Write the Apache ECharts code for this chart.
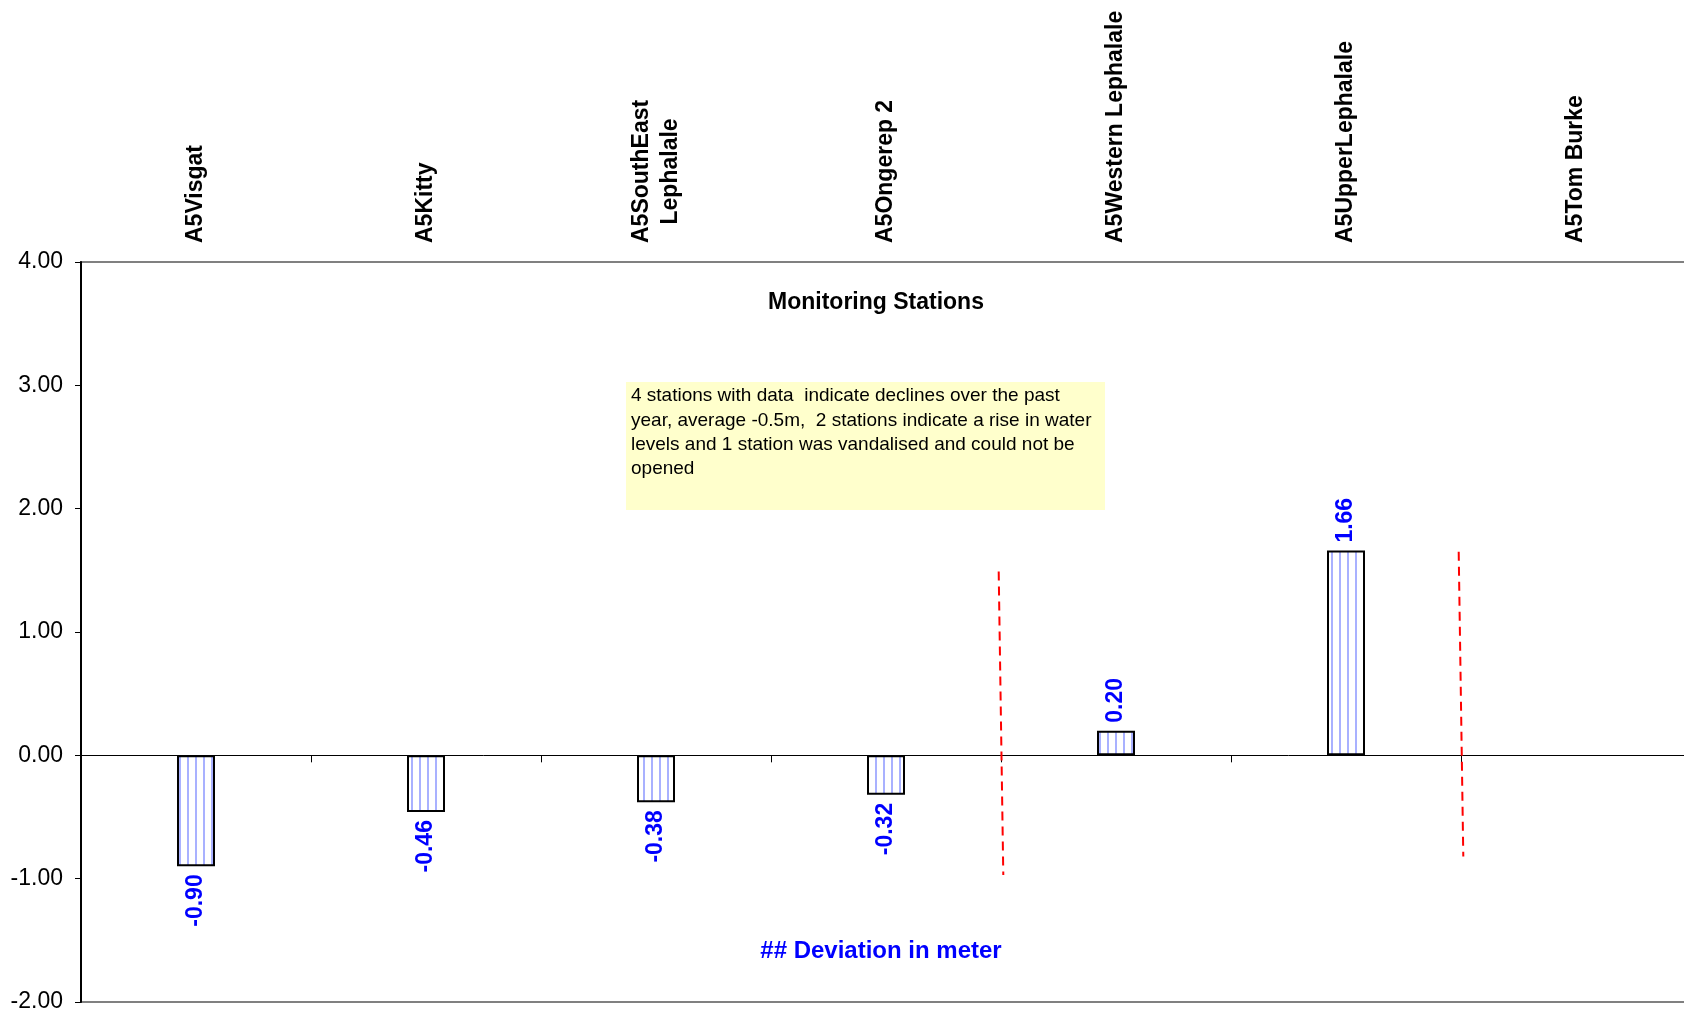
<!DOCTYPE html>
<html>
<head>
<meta charset="utf-8">
<script src="https://cdn.jsdelivr.net/npm/echarts@6/dist/echarts.min.js"></script>
<style>
html,body{margin:0;padding:0;background:#fff;overflow:hidden;}
#chart{width:1700px;height:1014px;}
</style>
</head>
<body>
<div id="chart"></div>
<script>
// ---- data ----
const categories = ['A5Visgat', 'A5Kitty', 'A5SouthEast\nLephalale', 'A5Ongerep 2', 'A5Western Lephalale', 'A5UpperLephalale', 'A5Tom Burke'];
const deviations = [-0.90, -0.46, -0.38, -0.32, 0.20, 1.66, null];
const yMin = -2, yMax = 4, yStep = 1;
// red dashed divider lines, x in category-boundary units (0..7), y in metres
const dividerA = [[3.99, 1.49], [4.01, -0.97]];
const dividerB = [[5.99, 1.65], [6.01, -0.82]];
const chartTitle = 'Monitoring Stations';
const axisTitle = '## Deviation in meter';
const noteLines = [
  '4 stations with data  indicate declines over the past',
  'year, average -0.5m,  2 stations indicate a rise in water',
  'levels and 1 station was vandalised and could not be',
  'opened'
];

const FONT = '"Liberation Sans", Arial, Helvetica, sans-serif';

// striped fill pattern
const pat = document.createElement('canvas');
pat.width = 8; pat.height = 8;
const pc = pat.getContext('2d');
pc.fillStyle = '#ffffff';
pc.fillRect(0, 0, 8, 8);
pc.fillStyle = '#a9b1ff';
pc.fillRect(3, 0, 2, 8);

const barData = deviations.map(v => v == null ? null : {
  value: v,
  label: { align: v < 0 ? 'right' : 'left' }
});

const chart = echarts.init(document.getElementById('chart'), null, { renderer: 'canvas' });
chart.setOption({
  backgroundColor: '#ffffff',
  animation: false,
  title: [
    { text: chartTitle, left: 876, top: 291, padding: 0, textAlign: 'center',
      textStyle: { fontFamily: FONT, fontSize: 23, fontWeight: 'bold', color: '#000' } },
    { text: axisTitle, left: 881, top: 939, padding: 0, textAlign: 'center',
      textStyle: { fontFamily: FONT, fontSize: 24, fontWeight: 'bold', color: '#0000ff' } }
  ],
  grid: { left: 81, top: 262, width: 1610, height: 740, show: true,
          borderColor: '#808080', borderWidth: 2, backgroundColor: 'transparent' },
  xAxis: [
    { type: 'category', data: categories, position: 'bottom',
      axisLine: { onZero: true, lineStyle: { color: '#000', width: 1 } },
      axisTick: { show: true, length: 7, lineStyle: { color: '#000' } },
      axisLabel: { show: false }, splitLine: { show: false } },
    { type: 'category', data: categories, position: 'top',
      axisLine: { show: false, onZero: false }, axisTick: { show: false },
      axisLabel: { show: true, rotate: -90, margin: 19, interval: 0,
        formatter: v => v.split('\n').map(s => '{c|' + s + '}').join('\n'),
        rich: { c: { fontFamily: FONT, fontSize: 23, fontWeight: 'bold', color: '#000', align: 'center', lineHeight: 29 } } },
      splitLine: { show: false } },
    { type: 'value', min: 0, max: 7, show: false, axisLine: { onZero: false } }
  ],
  yAxis: {
    type: 'value', min: yMin, max: yMax, interval: yStep,
    axisLine: { show: true, onZero: false, lineStyle: { color: '#000', width: 2 } },
    axisTick: { show: true, length: 6, lineStyle: { color: '#000' } },
    axisLabel: { formatter: v => v.toFixed(2), fontFamily: FONT, fontSize: 23, color: '#000', margin: 18 },
    splitLine: { show: false }
  },
  graphic: [
    { type: 'rect', left: 626, top: 382, shape: { width: 479, height: 128 },
      style: { fill: '#ffffcc', stroke: null }, z: 10 },
    { type: 'text', left: 631, top: 384, z: 11,
      style: { text: noteLines.join('\n'), font: '19px ' + FONT, fill: '#000', lineHeight: 24.3 } }
  ],
  series: [
    { type: 'bar', xAxisIndex: 0, data: barData, barWidth: 38,
      itemStyle: { color: { image: pat, repeat: 'repeat' }, borderColor: '#000', borderWidth: 2 },
      label: { show: true, position: 'outside', rotate: 90, distance: 8, verticalAlign: 'middle',
        formatter: p => p.value.toFixed(2),
        fontFamily: FONT, fontSize: 23, fontWeight: 'bold', color: '#0000ff' } },
    { type: 'line', xAxisIndex: 2, data: dividerA, symbol: 'none',
      lineStyle: { color: '#ff0000', width: 2, type: [9, 6] } },
    { type: 'line', xAxisIndex: 2, data: dividerB, symbol: 'none',
      lineStyle: { color: '#ff0000', width: 2, type: [9, 6] } }
  ]
});
</script>
</body>
</html>
